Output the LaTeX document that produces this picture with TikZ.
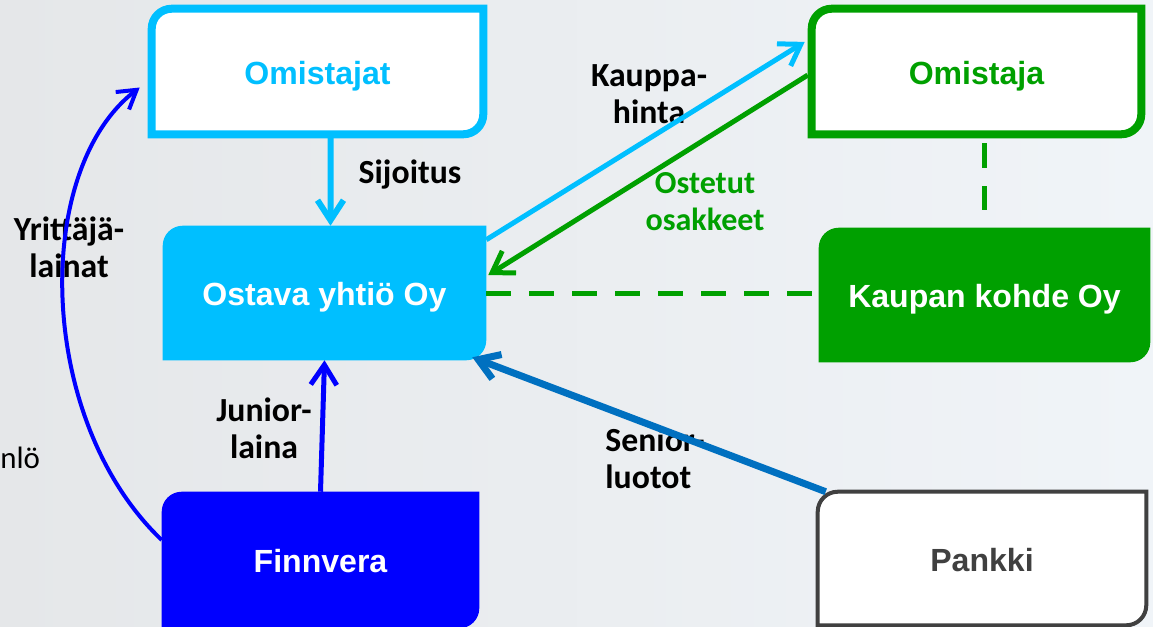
\documentclass[tikz,border=0pt]{standalone}
\usepackage{fontspec}
\setmainfont{Liberation Sans}
\newfontfamily\lblfont{Carlito}
\usetikzlibrary{positioning, arrows.meta, backgrounds}

\definecolor{cyanC}{RGB}{0,191,255}
\definecolor{greenC}{RGB}{0,160,0}
\definecolor{blueC}{RGB}{0,0,255}
\definecolor{seniorC}{RGB}{0,112,192}
\definecolor{grayC}{RGB}{64,64,64}
\definecolor{bgL}{RGB}{229,231,233}
\definecolor{bgM}{RGB}{244,245,247}
\definecolor{bgR}{RGB}{240,244,248}

\begin{document}
\begin{tikzpicture}[
  x=0.25mm, y=-0.25mm,
  box/.style={inner sep=0pt, text height=18.4pt, text depth=0pt,
    font=\fontsize{22.8pt}{27pt}\selectfont\bfseries},
  lbl/.style={inner sep=0pt, align=center, font=\lblfont\fontsize{24pt}{26.3pt}\selectfont\bfseries},
  arrow/.style={-{Straight Barb[length=5mm, width=6.5mm]}, line width=1.25mm},
  dashline/.style={draw=greenC, line width=1.25mm, dash pattern=on 6.25mm off 4.5mm}
]

\useasboundingbox (0,0) rectangle (1153,627);

% ===== Boxes =====
\node[box, text=cyanC, minimum width=82.75mm, minimum height=31.25mm] (omistajat) at (317.5,71.5) {Omistajat};
\node[box, text=white, minimum width=80.75mm, minimum height=33.5mm] (ostava) at (324.5,293) {Ostava yhtiö Oy};
\node[box, text=greenC, minimum width=82.25mm, minimum height=31.25mm] (omistaja) at (976.5,71.5) {Omistaja};
\node[box, text=white, minimum width=82.75mm, minimum height=33.5mm] (kaupan) at (984.5,295) {Kaupan kohde Oy};
\node[box, text=white, minimum width=79.25mm, minimum height=34mm] (finnvera) at (320.5,560) {Finnvera};
\node[box, text=grayC, minimum width=82mm, minimum height=33.25mm] (pankki) at (982,558.5) {Pankki};

\begin{scope}[on background layer]
  \fill[left color=bgL, middle color=bgM, right color=bgR] (0,0) rectangle (1153,627);
  \foreach \n/\fc/\dc/\lw in {omistajat/white/cyanC/2mm, ostava/cyanC/none/0mm,
      omistaja/white/greenC/2mm, kaupan/greenC/none/0mm,
      finnvera/blueC/none/0mm, pankki/white/grayC/1mm}
    \path[fill=\fc, draw=\dc, line width=\lw]
      ([xshift=5mm]\n.north west) -- (\n.north east)
      -- ([yshift=5mm]\n.south east) arc[start angle=0, end angle=-90, radius=5mm]
      -- (\n.south west)
      -- ([yshift=-5mm]\n.north west) arc[start angle=180, end angle=90, radius=5mm] -- cycle;
\end{scope}

% ===== Labels =====
\node[lbl] (lsijoitus) at (410,175) {Sijoitus};
\node[lbl] (lkauppa) at (649,94) {Kauppa-\\hinta};
\node[lbl, text=greenC, font=\lblfont\fontsize{22.8pt}{26.3pt}\selectfont\bfseries] (lostetut) at (705,202) {Ostetut\\osakkeet};
\node[lbl] (lyrittaja) at (69,247) {Yrittäjä-\\lainat};
\node[lbl] (ljunior) at (264,428) {Junior-\\laina};
\node[lbl, align=left] (lsenior) at (655,458) {Senior-\\luotot};
\node[inner sep=0pt, anchor=west, font=\lblfont\fontsize{22pt}{26pt}\selectfont] (lhenkilo) at (0,458) {nlö};

% ===== Connectors =====
\draw[arrow, cyanC, line width=1.5mm] ([xshift=3.25mm]omistajat.south) -- ([xshift=1.5mm]ostava.north);

\draw[arrow, cyanC] ([yshift=-3.5mm]ostava.north east) -- ([shift={(-1.75mm,7.4mm)}]omistaja.west);

\draw[arrow, greenC] ([shift={(-1mm,-0.9mm)}]omistaja.west) -- ([shift={(0.5mm,4.5mm)}]ostava.east);

\draw[dashline] (ostava.east) -- (ostava.east -| kaupan.west);
\draw[dashline, shorten <=2.25mm, shorten >=4.5mm] (kaupan.north |- omistaja.south) -- (kaupan.north);

\draw[-{Straight Barb[length=4.5mm, width=5.5mm]}, blueC, line width=1mm]
  ([yshift=5mm]finnvera.west) .. controls (36,420) and (32,170) .. ([shift={(-3mm,-4mm)}]omistajat.west);

\draw[arrow, blueC] (finnvera.north) -- (ostava.south);

\draw[arrow, seniorC, line width=1.75mm] ([xshift=2mm]pankki.north west) -- ([shift={(-3.5mm,0.75mm)}]ostava.south east);

\end{tikzpicture}
\end{document}
